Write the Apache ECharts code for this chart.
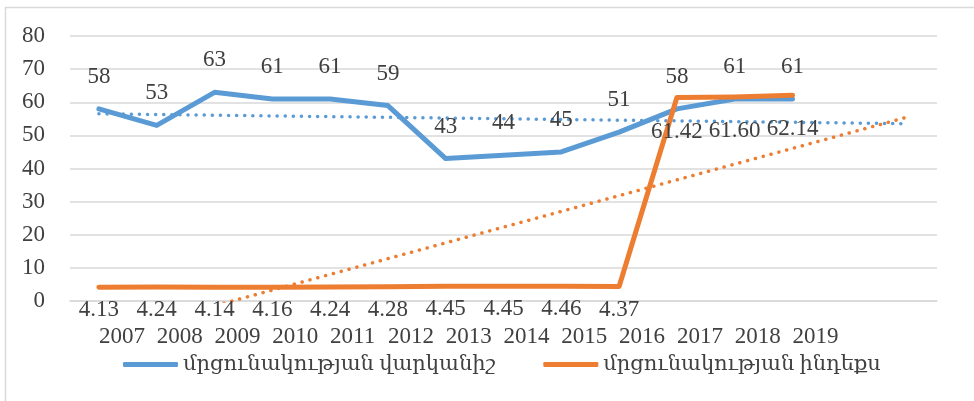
<!DOCTYPE html>
<html>
<head>
<meta charset="utf-8">
<script src="https://cdn.jsdelivr.net/npm/echarts@6/dist/echarts.min.js"></script>
<style>
	html, body { margin: 0; padding: 0; background: #fff; }
	#chart { width: 974px; height: 401px; }
</style>
</head>
<body>
<div id="chart"></div>
<script>
	// categories: two empty slots at the end for the trendline forecast
	var years = ['2007', '2008', '2009', '2010', '2011', '2012', '2013', '2014', '2015', '2016', '2017', '2018', '2019', '', ''];
	var ratingValues = [58, 53, 63, 61, 61, 59, 43, 44, 45, 51, 58, 61, 61];
	var indexValues = [4.13, 4.24, 4.14, 4.16, 4.24, 4.28, 4.45, 4.45, 4.46, 4.37, 61.42, 61.60, 62.14];
	var indexLabels = ['4.13', '4.24', '4.14', '4.16', '4.24', '4.28', '4.45', '4.45', '4.46', '4.37', '61.42', '61.60', '62.14'];
	var ratingName = 'մրցունակության վարկանիշ';
	var indexName = 'մրցունակության ինդեքս';

	var blue = '#5B9BD5';
	var orange = '#ED7D31';
	var textColor = '#404040';
	var fontFamily = '"Liberation Serif", "DejaVu Serif", serif';

	//最小二乘趋势线, 向前延伸到所有类目
	function trend(values, count) {
		var n = values.length, sx = 0, sy = 0, sxy = 0, sxx = 0;
		for (var i = 0; i < n; i++) {
			sx += i; sy += values[i]; sxy += i * values[i]; sxx += i * i;
		}
		var slope = (n * sxy - sx * sy) / (n * sxx - sx * sx);
		var icpt = (sy - slope * sx) / n;
		var out = [];
		for (var j = 0; j < count; j++) {
			out.push(icpt + slope * j);
		}
		return out;
	}

	var indexData = indexValues.map(function(v, i) {
		return {
			value: v,
			label: { distance: v > 30 ? 22 : 11, formatter: indexLabels[i] }
		};
	});

	var option = {
		animation: false,
		textStyle: { fontFamily: fontFamily },
		graphic: [{
			type: 'polyline',
			shape: { points: [[5.5, 401], [5.5, 7.5], [974, 7.5]] },
			style: { stroke: '#D9D9D9', lineWidth: 1.5, fill: null }
		}],
		grid: { left: 70, right: 37, top: 36, bottom: 100 },
		legend: {
			data: [ratingName, indexName],
			bottom: 21,
			left: 118,
			icon: 'roundRect',
			itemWidth: 55,
			itemHeight: 5,
			itemGap: 48,
			textStyle: { fontSize: 21, color: textColor, fontFamily: fontFamily }
		},
		xAxis: {
			type: 'category',
			data: years,
			boundaryGap: true,
			axisLine: { lineStyle: { color: '#D9D9D9', width: 1.5 } },
			axisTick: { show: false },
			axisLabel: {
				interval: 0,
				align: 'left',
				margin: 24,
				fontSize: 23,
				color: textColor,
				fontFamily: fontFamily
			}
		},
		yAxis: {
			type: 'value',
			min: 0,
			max: 80,
			interval: 10,
			axisLine: { show: false },
			axisTick: { show: false },
			splitLine: { lineStyle: { color: '#D9D9D9', width: 1.5 } },
			axisLabel: { margin: 25, fontSize: 23, color: textColor, fontFamily: fontFamily }
		},
		series: [{
			name: ratingName + ' trend',
			type: 'line',
			data: trend(ratingValues, years.length),
			symbol: 'none',
			silent: true,
			lineStyle: { color: blue, width: 3.5, type: [0.1, 8], cap: 'round' },
			z: 1
		}, {
			name: indexName + ' trend',
			type: 'line',
			data: trend(indexValues, years.length),
			symbol: 'none',
			silent: true,
			lineStyle: { color: orange, width: 3.5, type: [0.1, 8], cap: 'round' },
			z: 1
		}, {
			name: ratingName,
			type: 'line',
			data: ratingValues,
			symbol: 'circle',
			symbolSize: 1,
			itemStyle: { color: blue },
			lineStyle: { color: blue, width: 5, cap: 'round', join: 'round' },
			label: {
				show: true,
				position: 'top',
				distance: 20,
				fontSize: 23,
				color: textColor,
				fontFamily: fontFamily
			},
			z: 3
		}, {
			name: indexName,
			type: 'line',
			data: indexData,
			symbol: 'circle',
			symbolSize: 1,
			itemStyle: { color: orange },
			lineStyle: { color: orange, width: 5, cap: 'round', join: 'round' },
			label: {
				show: true,
				position: 'bottom',
				fontSize: 23,
				color: textColor,
				fontFamily: fontFamily
			},
			z: 4
		}]
	};

	echarts.init(document.getElementById('chart')).setOption(option);
</script>
</body>
</html>
